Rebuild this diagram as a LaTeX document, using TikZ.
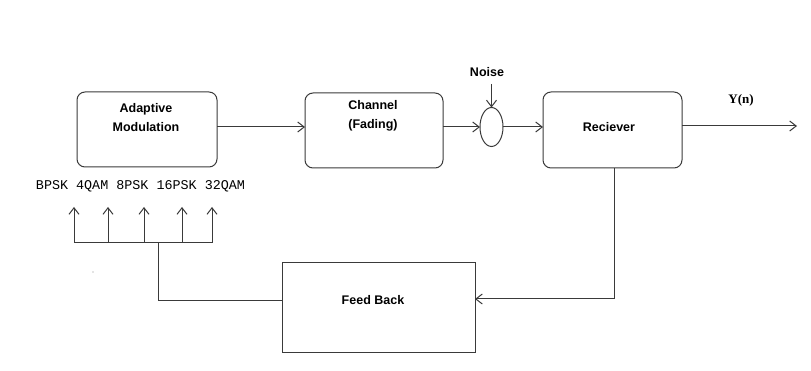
\documentclass[tikz,border=0pt]{standalone}
\usepackage{fontspec}
\setmainfont{Liberation Sans}
\newfontfamily\monofnt{Liberation Mono}
\newfontfamily\seriffnt{Liberation Serif}
\usetikzlibrary{arrows.meta,shapes.geometric}
\definecolor{ln}{HTML}{3A3A3A}
\tikzset{
  box/.style={draw=ln, line width=1pt, rounded corners=8pt, inner sep=0pt, outer sep=0pt},
  sqbox/.style={draw=ln, line width=1pt, inner sep=0pt, outer sep=0pt},
  lbl/.style={font=\fontsize{12.5}{18.5}\selectfont\bfseries, align=center, inner sep=0pt},
  wire/.style={draw=ln, line width=1pt},
  arr/.style={wire, -{Straight Barb[length=6.5pt,width=10pt]}},
}
\begin{document}
\begin{tikzpicture}[x=1pt,y=-1pt]
\useasboundingbox (0,0) rectangle (811,371);
% blocks
\node[box, minimum width=140pt, minimum height=75pt] (am) at (147,129.5) {};
\node[lbl] (amt) at (146,117.5) {Adaptive\\Modulation};
\node[box, minimum width=138pt, minimum height=75pt] (ch) at (374,130.5) {};
\node[lbl] (cht) at (373,116) {Channel\\(Fading)};
\node[draw=ln, line width=1pt, ellipse, minimum width=23pt, minimum height=39pt, inner sep=0pt, outer sep=0pt] (nz) at (491.5,127) {};
\node[lbl] (noise) at (487,72) {Noise};
\node[box, minimum width=139pt, minimum height=76pt] (rx) at (612.5,130) {};
\node[lbl] (rxt) at (609,127) {Reciever};
\node[font=\seriffnt\fontsize{13}{15}\selectfont\bfseries, inner sep=0pt] (yn) at (741,100) {Y(n)};
\coordinate (yout) at (797,126);
\node[sqbox, minimum width=193pt, minimum height=89pt] (fb) at (378.5,307.5) {};
\node[lbl] (fbt) at (373,300) {Feed Back};
\node[font=\monofnt\fontsize{13.4}{15}\selectfont, inner sep=0pt] (mods) at (140.5,186) {BPSK 4QAM 8PSK 16PSK 32QAM};
% forward path
\draw[arr] (am.east |- nz) -- (ch.west |- nz);
\draw[arr] (ch.east |- nz) -- (nz.west);
\draw[arr] (nz.east) -- (rx.west |- nz);
\draw[arr] (rx.east |- yout) -- (yout);
\draw[arr] ([yshift=-7pt]noise.south -| nz) -- (nz.north);
% feedback
\coordinate (fbc) at (614,299);
\draw[arr] (rx.south -| fbc) -- (fbc) -- (fb.east |- fbc);
\coordinate (fbl) at (158,301);
\coordinate (bus) at (158,243);
\draw[wire] (fb.west |- fbl) -- (fbl) -- (bus);
\coordinate (b1) at (74,243);
\coordinate (b2) at (108,243);
\coordinate (b3) at (144,243);
\coordinate (b4) at (182,243);
\coordinate (b5) at (212,243);
\draw[wire] (b1) -- (b5);
\foreach \c in {b1,b2,b3,b4,b5} { \draw[arr] (\c) -- ([yshift=36pt]\c); }
\fill[ln!60] (93,272) circle (0.6pt);
\end{tikzpicture}
\end{document}
